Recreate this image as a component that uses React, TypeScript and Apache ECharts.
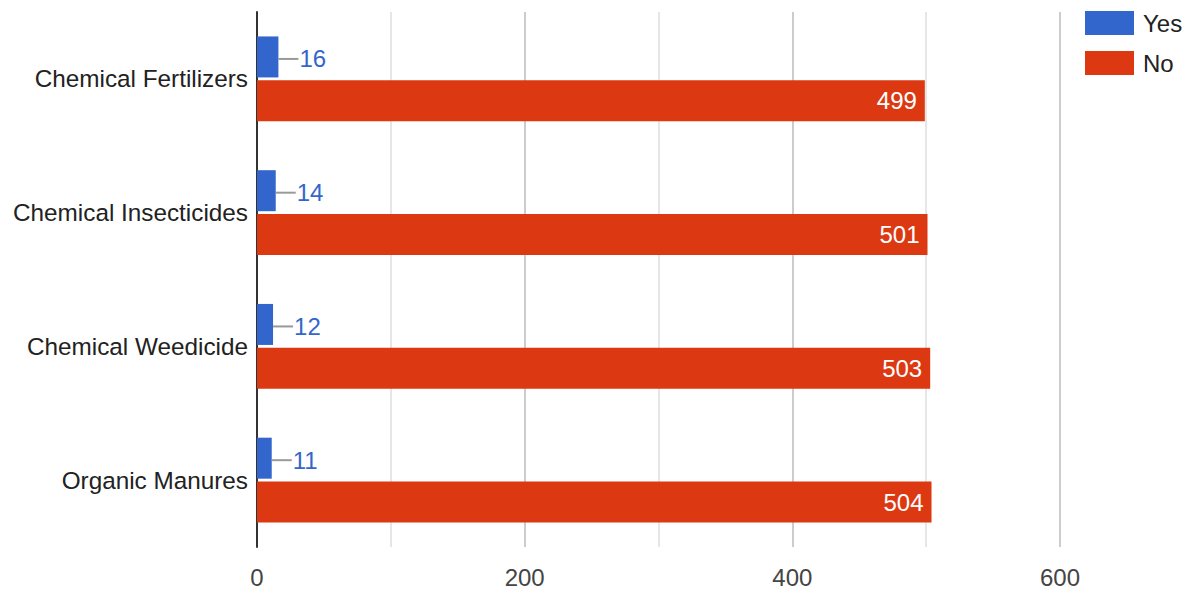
import React, { useEffect, useRef } from "react";
import * as echarts from "echarts";

const categories = ["Chemical Fertilizers", "Chemical Insecticides", "Chemical Weedicide", "Organic Manures"];
const yesValues = [16, 14, 12, 11];
const noValues = [499, 501, 503, 504];
const seriesNames = ["Yes", "No"];

const FONT = 'Arial, "Liberation Sans", sans-serif';

export default function App() {
  const ref = useRef<HTMLDivElement>(null);
  useEffect(() => {
    if (!ref.current) return;
    const chart = echarts.init(ref.current, null, { renderer: "svg" });
    chart.setOption({
      animation: false,
      textStyle: { fontFamily: FONT },
      color: ["#3366cc", "#dc3912"],
      legend: {
        orient: "vertical",
        left: 1085,
        top: 11,
        padding: 0,
        itemWidth: 49,
        itemHeight: 24,
        itemGap: 16,
        icon: "rect",
        textStyle: { fontSize: 24, color: "#222", fontFamily: FONT, padding: [0, 0, 0, 4] },
        data: seriesNames,
      },
      grid: { left: 257, right: 125, top: 12, bottom: 45, containLabel: false },
      xAxis: {
        type: "value",
        min: 0,
        max: 600,
        interval: 100,
        axisLine: { show: false },
        axisTick: { show: false },
        axisLabel: {
          fontSize: 24,
          color: "#444",
          margin: 18,
          fontFamily: FONT,
          formatter: (v: number) => (v % 200 === 0 ? String(v) : ""),
        },
        splitLine: { show: true, lineStyle: { color: ["#cccccc", "#e6e6e6"], width: 2 } },
      },
      yAxis: {
        type: "category",
        inverse: true,
        data: categories,
        axisLine: { show: true, lineStyle: { color: "#333", width: 2 } },
        axisTick: { show: false },
        axisLabel: { fontSize: 24.3, color: "#222", margin: 9, fontFamily: FONT },
      },
      series: [
        {
          name: seriesNames[0],
          type: "bar",
          data: yesValues,
          barWidth: 41,
          barGap: "7%",
          label: {
            show: true,
            position: "right",
            distance: 0,
            offset: [0, 2],
            formatter: (p: any) => `{l| }{v|${p.value}}`,
            rich: {
              l: { width: 20, height: 2, backgroundColor: "#999", verticalAlign: "middle", fontSize: 1 },
              v: { fontSize: 24, color: "#3366cc", fontFamily: FONT, padding: [0, 0, 0, 1] },
            },
          },
        },
        {
          name: seriesNames[1],
          type: "bar",
          data: noValues,
          barWidth: 41,
          label: {
            show: true,
            position: "insideRight",
            distance: 8,
            fontSize: 24,
            color: "#fff",
            fontFamily: FONT,
          },
        },
      ],
    });
    return () => chart.dispose();
  }, []);
  return <div ref={ref} style={{ width: 1185, height: 592, position: "absolute", left: 0, top: 0 }} />;
}
